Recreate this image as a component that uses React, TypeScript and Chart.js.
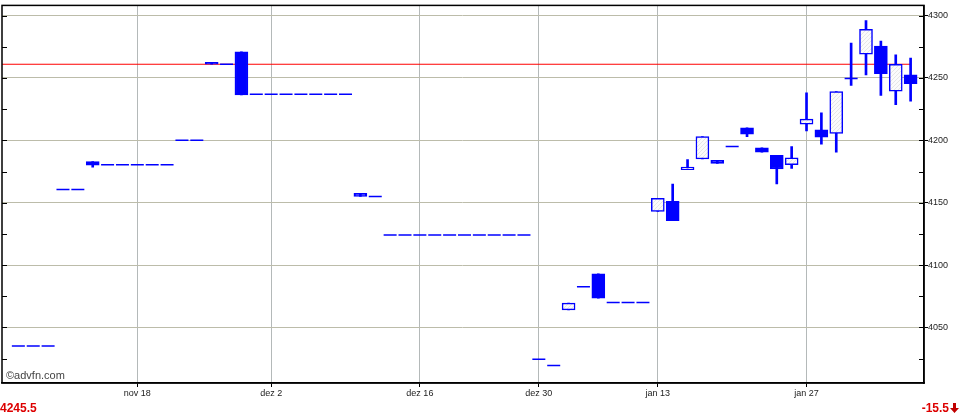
import React, { useEffect, useRef } from 'react';
import { Chart, registerables } from 'chart.js';

Chart.register(...registerables);

// Trading days (B3), one slot per session
const dates = [
  '2024-11-05', '2024-11-06', '2024-11-07', '2024-11-08', '2024-11-11', '2024-11-12', '2024-11-13', '2024-11-14',
  '2024-11-18', '2024-11-19', '2024-11-21', '2024-11-22', '2024-11-25', '2024-11-26', '2024-11-27', '2024-11-28',
  '2024-11-29', '2024-12-02', '2024-12-03', '2024-12-04', '2024-12-05', '2024-12-06', '2024-12-09', '2024-12-10',
  '2024-12-11', '2024-12-12', '2024-12-13', '2024-12-16', '2024-12-17', '2024-12-18', '2024-12-19', '2024-12-20',
  '2024-12-23', '2024-12-26', '2024-12-27', '2024-12-30', '2025-01-02', '2025-01-03', '2025-01-06', '2025-01-07',
  '2025-01-08', '2025-01-09', '2025-01-10', '2025-01-13', '2025-01-14', '2025-01-15', '2025-01-16', '2025-01-17',
  '2025-01-20', '2025-01-21', '2025-01-22', '2025-01-23', '2025-01-24', '2025-01-27', '2025-01-28', '2025-01-29',
  '2025-01-30', '2025-01-31', '2025-02-03', '2025-02-04', '2025-02-05',
];

const opens = [
  4035, 4035, 4035, 4160.5, 4160.5, 4183, 4180.5, 4180.5,
  4180.5, 4180.5, 4180.5, 4200, 4200, 4262.5, 4261, 4271,
  4237, 4237, 4237, 4237, 4237, 4237, 4237, 4157.5,
  4155, 4124, 4124, 4124, 4124, 4124, 4124, 4124,
  4124, 4124, 4124, 4024.5, 4019.5, 4064, 4082.5, 4093,
  4070, 4070, 4070, 4143, 4151, 4176.5, 4185, 4184,
  4195, 4210, 4194, 4188, 4180.5, 4213, 4208.5, 4205.5,
  4249, 4269, 4275.5, 4239.5, 4252.5,
];
const highs = [
  4035, 4035, 4035, 4160.5, 4160.5, 4183, 4180.5, 4180.5,
  4180.5, 4180.5, 4180.5, 4200, 4200, 4262.5, 4261, 4271,
  4237, 4237, 4237, 4237, 4237, 4237, 4237, 4157.5,
  4155, 4124, 4124, 4124, 4124, 4124, 4124, 4124,
  4124, 4124, 4124, 4024.5, 4019.5, 4069.5, 4082.5, 4093,
  4070, 4070, 4070, 4153.5, 4165, 4184.5, 4203, 4184,
  4195, 4210, 4194, 4188, 4195, 4238, 4222, 4239,
  4278, 4296, 4279.5, 4268.5, 4266,
];
const lows = [
  4035, 4035, 4035, 4160.5, 4160.5, 4178.5, 4180.5, 4180.5,
  4180.5, 4180.5, 4180.5, 4200, 4200, 4261, 4261, 4236.5,
  4237, 4237, 4237, 4237, 4237, 4237, 4237, 4155,
  4155, 4124, 4124, 4124, 4124, 4124, 4124, 4124,
  4124, 4124, 4124, 4024.5, 4019.5, 4064, 4082.5, 4073.5,
  4070, 4070, 4070, 4143, 4135.5, 4176.5, 4185, 4181.5,
  4195, 4203, 4190.5, 4165, 4177.5, 4207.5, 4197, 4190.5,
  4244, 4252.5, 4236, 4228.5, 4231.5,
];
const closes = [
  4035, 4035, 4035, 4160.5, 4160.5, 4180, 4180.5, 4180.5,
  4180.5, 4180.5, 4180.5, 4200, 4200, 4261, 4261, 4236.5,
  4237, 4237, 4237, 4237, 4237, 4237, 4237, 4155,
  4155, 4124, 4124, 4124, 4124, 4124, 4124, 4124,
  4124, 4124, 4124, 4024.5, 4019.5, 4069.5, 4082.5, 4073.5,
  4070, 4070, 4070, 4153.5, 4135.5, 4178.5, 4203, 4181.5,
  4195, 4205, 4190.5, 4177, 4186, 4217, 4202.5, 4239,
  4249.5, 4289, 4253.5, 4261, 4245.5,
];

const tickDates = ['2024-11-18', '2024-12-02', '2024-12-16', '2024-12-30', '2025-01-13', '2025-01-27'];
const tickLabels = ['nov 18', 'dez 2', 'dez 16', 'dez 30', 'jan 13', 'jan 27'];
const yTickValues = [4025, 4050, 4075, 4100, 4125, 4150, 4175, 4200, 4225, 4250, 4275, 4300];
const previousClose = 4261;
const lastPriceText = '4245.5';
const changeText = '-15.5';

const FONT = "'Liberation Sans', Arial, sans-serif";

export default function App() {
  const canvasRef = useRef<HTMLCanvasElement>(null);

  useEffect(() => {
    const canvas = canvasRef.current;
    if (!canvas) return;
    const ctx = canvas.getContext('2d')!;

    const pc = document.createElement('canvas');
    pc.width = 4;
    pc.height = 4;
    const pctx = pc.getContext('2d')!;
    pctx.fillStyle = '#fbfbfb';
    pctx.fillRect(0, 0, 4, 4);
    pctx.strokeStyle = '#e6e6e6';
    pctx.lineWidth = 1;
    pctx.beginPath();
    pctx.moveTo(0, 4);
    pctx.lineTo(4, 0);
    pctx.stroke();
    const hatch = ctx.createPattern(pc, 'repeat') || '#f8f8f8';

    const blue = '#0000ff';
    const idx = dates.map((_, i) => i);
    const isFlat = (i: number) => Math.abs(opens[i] - closes[i]) < 0.6;

    const bodyIdx = idx.filter((i) => !isFlat(i));
    const bodies = bodyIdx.map((i) => ({ x: i, y: [opens[i], closes[i]] }));
    const bodyFill = bodyIdx.map((i) => (closes[i] > opens[i] ? hatch : blue));
    const dashes = idx.filter(isFlat).map((i) => ({ x: i, y: closes[i] }));
    const wicks = idx
      .filter((i) => highs[i] - lows[i] > 0.6)
      .map((i) => ({ x: i, y: [lows[i], highs[i]] }));

    const tickIdx = tickDates.map((d) => dates.indexOf(d));
    const xMin = -1.1;
    const xMax = dates.length - 1 + 0.9;

    const framePlugin = {
      id: 'frame',
      afterDatasetsDraw(chart: any) {
        const { ctx: c, chartArea: a, scales } = chart;
        c.save();
        c.strokeStyle = '#000';
        c.lineWidth = 1;
        const ys = scales.y;
        ys.ticks.forEach((t: any) => {
          const py = Math.round(ys.getPixelForValue(t.value)) + 0.5;
          c.beginPath();
          c.moveTo(a.left, py);
          c.lineTo(a.left + 5, py);
          c.moveTo(a.right - 5, py);
          c.lineTo(a.right, py);
          c.stroke();
        });
        c.lineWidth = 1.5;
        c.strokeRect(a.left, a.top, a.right - a.left, a.bottom - a.top);
        c.restore();
      },
    };

    const chart = new Chart(ctx, {
      type: 'bar',
      data: {
        datasets: [
          {
            type: 'line',
            data: [
              { x: xMin, y: previousClose },
              { x: dates.length - 1, y: previousClose },
            ],
            borderColor: '#ff0000',
            borderWidth: 1.2,
            pointRadius: 0,
            order: 4,
          } as any,
          {
            data: wicks as any,
            backgroundColor: blue,
            borderWidth: 0,
            barThickness: 2,
            grouped: false,
            order: 3,
          },
          {
            data: bodies as any,
            backgroundColor: bodyFill as any,
            borderColor: blue,
            borderWidth: 1.5,
            borderSkipped: false,
            barThickness: 13,
            grouped: false,
            order: 2,
          },
          {
            type: 'scatter',
            data: dashes,
            pointStyle: 'line',
            pointRadius: 6.5,
            pointBorderWidth: 1.5,
            borderColor: blue,
            backgroundColor: blue,
            order: 1,
          } as any,
        ],
      },
      options: {
        animation: false,
        responsive: false,
        devicePixelRatio: 1,
        layout: { autoPadding: false, padding: { left: 2, top: 3, right: 0, bottom: 0 } },
        plugins: {
          legend: { display: false },
          tooltip: { enabled: false },
        },
        scales: {
          x: {
            type: 'linear',
            min: xMin,
            max: xMax,
            offset: false,
            afterBuildTicks: (scale: any) => {
              scale.ticks = tickIdx.map((v) => ({ value: v }));
            },
            afterFit: (scale: any) => {
              scale.height = 31;
            },
            ticks: {
              autoSkip: false,
              maxRotation: 0,
              padding: 1,
              color: '#222',
              font: { family: FONT, size: 9 },
              callback: (v: any) => {
                const k = tickIdx.indexOf(Number(v));
                return k >= 0 ? tickLabels[k] : '';
              },
            },
            grid: {
              offset: false,
              color: '#b4b9b9',
              lineWidth: 1,
              tickLength: 4,
              tickColor: '#000',
            },
            border: { color: '#000', width: 1.5 },
          },
          y: {
            type: 'linear',
            position: 'right',
            min: 4005.4,
            max: 4308.2,
            afterBuildTicks: (scale: any) => {
              scale.ticks = yTickValues.map((v) => ({ value: v }));
            },
            afterFit: (scale: any) => {
              scale.width = 36;
            },
            ticks: {
              padding: 0,
              color: '#222',
              font: { family: FONT, size: 9 },
              callback: (v: any) => (Number(v) % 50 === 0 ? String(v) : ''),
            },
            grid: {
              color: (c: any) => (c.tick && c.tick.value % 50 === 0 ? '#bcbcaa' : 'rgba(0,0,0,0)'),
              lineWidth: 1,
              tickLength: 4,
              tickColor: (c: any) => (c.tick && c.tick.value % 50 === 0 ? '#000' : 'rgba(0,0,0,0)'),
            },
            border: { color: '#000', width: 1.5 },
          },
        },
      },
      plugins: [framePlugin],
    });

    return () => chart.destroy();
  }, []);

  return (
    <div
      style={{
        position: 'fixed',
        left: 0,
        top: 0,
        width: 960,
        height: 414,
        background: '#fff',
        overflow: 'hidden',
        fontFamily: FONT,
      }}
    >
      <canvas ref={canvasRef} width={960} height={414} style={{ display: 'block', width: 960, height: 414 }} />
      <div
        style={{
          position: 'absolute',
          left: 6,
          top: 370,
          fontSize: 11,
          lineHeight: '11px',
          color: '#444',
          whiteSpace: 'nowrap',
        }}
      >
        ©advfn.com
      </div>
      <div
        style={{
          position: 'absolute',
          left: 0,
          top: 402,
          fontSize: 12,
          lineHeight: '12px',
          fontWeight: 'bold',
          color: '#dd0000',
          whiteSpace: 'nowrap',
        }}
      >
        {lastPriceText}
      </div>
      <div
        style={{
          position: 'absolute',
          right: 1,
          top: 402,
          fontSize: 12,
          lineHeight: '12px',
          fontWeight: 'bold',
          color: '#dd0000',
          whiteSpace: 'nowrap',
          display: 'flex',
          alignItems: 'flex-start',
        }}
      >
        <span>{changeText}</span>
        <svg width="9" height="10" viewBox="0 0 9 10" style={{ marginLeft: 1, marginTop: 1 }}>
          <path d="M3 0 H6 V5 H9 L4.5 10 L0 5 H3 Z" fill="#c00000" />
        </svg>
      </div>
    </div>
  );
}
